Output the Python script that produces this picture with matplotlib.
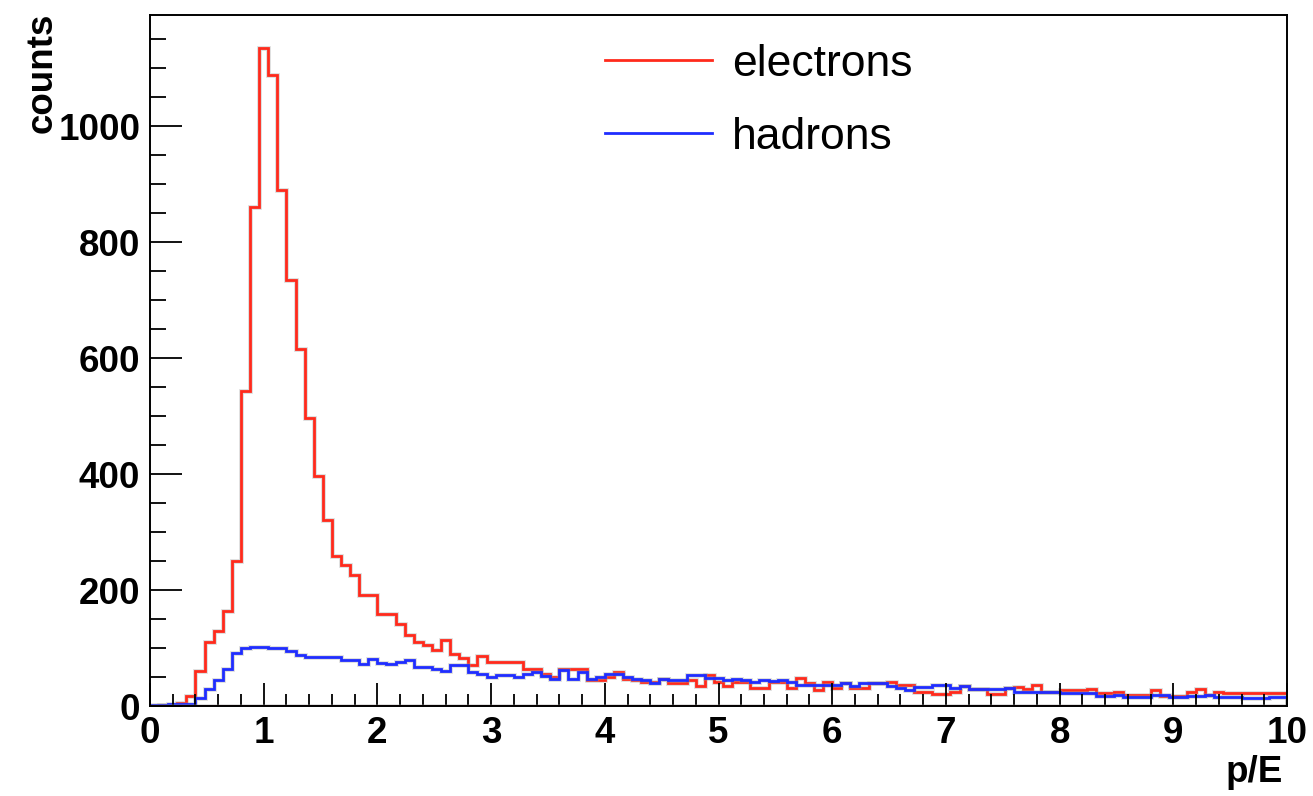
import numpy as np
import matplotlib
matplotlib.use("Agg")
import matplotlib.pyplot as plt
import matplotlib.patheffects as pe
from matplotlib.ticker import MultipleLocator, FixedLocator
from matplotlib.lines import Line2D

# p/E histograms: 125 bins of width 0.08 between 0 and 10
bin_edges = np.linspace(0.0, 10.0, 126)

electrons = [
    0, 1, 2, 5, 18, 60, 111, 130, 164, 250,
    543, 861, 1135, 1089, 890, 735, 616, 497, 396, 321,
    259, 244, 226, 192, 192, 159, 159, 142, 123, 111,
    106, 96, 114, 90, 83, 70, 86, 76, 76, 76,
    76, 64, 64, 56, 50, 64, 64, 64, 44, 44,
    50, 59, 47, 44, 41, 42, 47, 40, 40, 44,
    35, 53, 42, 35, 41, 41, 31, 31, 42, 42,
    31, 48, 39, 27, 42, 31, 40, 31, 31, 39,
    39, 42, 36, 36, 25, 25, 21, 21, 24, 34,
    30, 30, 21, 21, 31, 32, 30, 36, 24, 24,
    27, 27, 27, 29, 22, 22, 25, 19, 19, 19,
    27, 18, 18, 18, 24, 29, 19, 25, 22, 22,
    22, 23, 23, 23, 23,
]

hadrons = [
    1, 2, 3, 4, 4, 13, 29, 44, 64, 92,
    100, 102, 102, 100, 100, 94, 88, 84, 84, 84,
    85, 79, 79, 72, 81, 75, 72, 76, 80, 68,
    68, 64, 60, 70, 70, 59, 56, 50, 54, 54,
    50, 56, 59, 52, 46, 62, 46, 59, 47, 50,
    56, 56, 50, 47, 44, 40, 47, 44, 44, 54,
    54, 48, 48, 44, 47, 44, 42, 45, 43, 44,
    41, 37, 37, 37, 36, 36, 40, 35, 40, 40,
    40, 35, 31, 27, 32, 32, 36, 36, 31, 34,
    30, 29, 29, 29, 31, 25, 25, 25, 24, 24,
    22, 22, 22, 22, 18, 18, 19, 16, 16, 16,
    19, 19, 16, 16, 18, 18, 19, 16, 16, 16,
    13, 13, 13, 16, 16,
]

series_labels = ["electrons", "hadrons"]
x_ticks = [0, 1, 2, 3, 4, 5, 6, 7, 8, 9, 10]
y_ticks = [0, 200, 400, 600, 800, 1000]

red = "#ff2a1c"
blue = "#1f2dff"
font = ["Liberation Sans", "DejaVu Sans"]
line_w = 2.0
halo = [pe.Stroke(linewidth=line_w + 1.4, foreground="#999999", alpha=0.35), pe.Normal()]

fig = plt.figure(figsize=(13.13, 7.96), dpi=100)
ax = fig.add_axes([150 / 1313, 1 - 706 / 796, 1137 / 1313, 691 / 796])

ax.stairs(electrons, bin_edges, color=red, lw=line_w, baseline=0, path_effects=halo)
ax.stairs(hadrons, bin_edges, color=blue, lw=line_w, baseline=0, path_effects=halo)
ax.plot([bin_edges[0], bin_edges[-1]], [0, 0], color=red, lw=line_w, path_effects=halo)

ax.set_xlim(0, 10)
ax.set_ylim(0, 1.05 * max(electrons))

ax.xaxis.set_major_locator(FixedLocator(x_ticks))
ax.xaxis.set_minor_locator(MultipleLocator(0.2))
ax.yaxis.set_major_locator(FixedLocator(y_ticks))
ax.yaxis.set_minor_locator(MultipleLocator(50))

ax.tick_params(axis="both", which="both", direction="in", top=False, right=False,
               color="black", width=1.3)
ax.tick_params(axis="x", which="major", length=16.5, pad=7)
ax.tick_params(axis="x", which="minor", length=8.5)
ax.tick_params(axis="y", which="major", length=23, pad=7)
ax.tick_params(axis="y", which="minor", length=11.5)

for lab in ax.get_xticklabels() + ax.get_yticklabels():
    lab.set_fontfamily(font)
    lab.set_fontweight("bold")
    lab.set_fontsize(26.5)

for sp in ax.spines.values():
    sp.set_linewidth(1.4)
    sp.set_color("black")

ax.set_xlabel("p/E", family=font, fontweight="bold", fontsize=26.5, loc="right")
ax.xaxis.set_label_coords(0.9965, -0.071)
ax.set_ylabel("counts", family=font, fontweight="bold", fontsize=26.5, loc="top")
ax.yaxis.set_label_coords(-0.0795, 1.003)

handles = [Line2D([], [], color=red, lw=line_w), Line2D([], [], color=blue, lw=line_w)]
ax.legend(handles, series_labels, loc="upper left", bbox_to_anchor=(0.4002, 0.958),
          frameon=False, borderpad=0, borderaxespad=0, handlelength=2.41,
          handletextpad=0.45, labelspacing=0.72,
          prop={"family": font, "size": 32})

fig.savefig("out.png", dpi=100)
